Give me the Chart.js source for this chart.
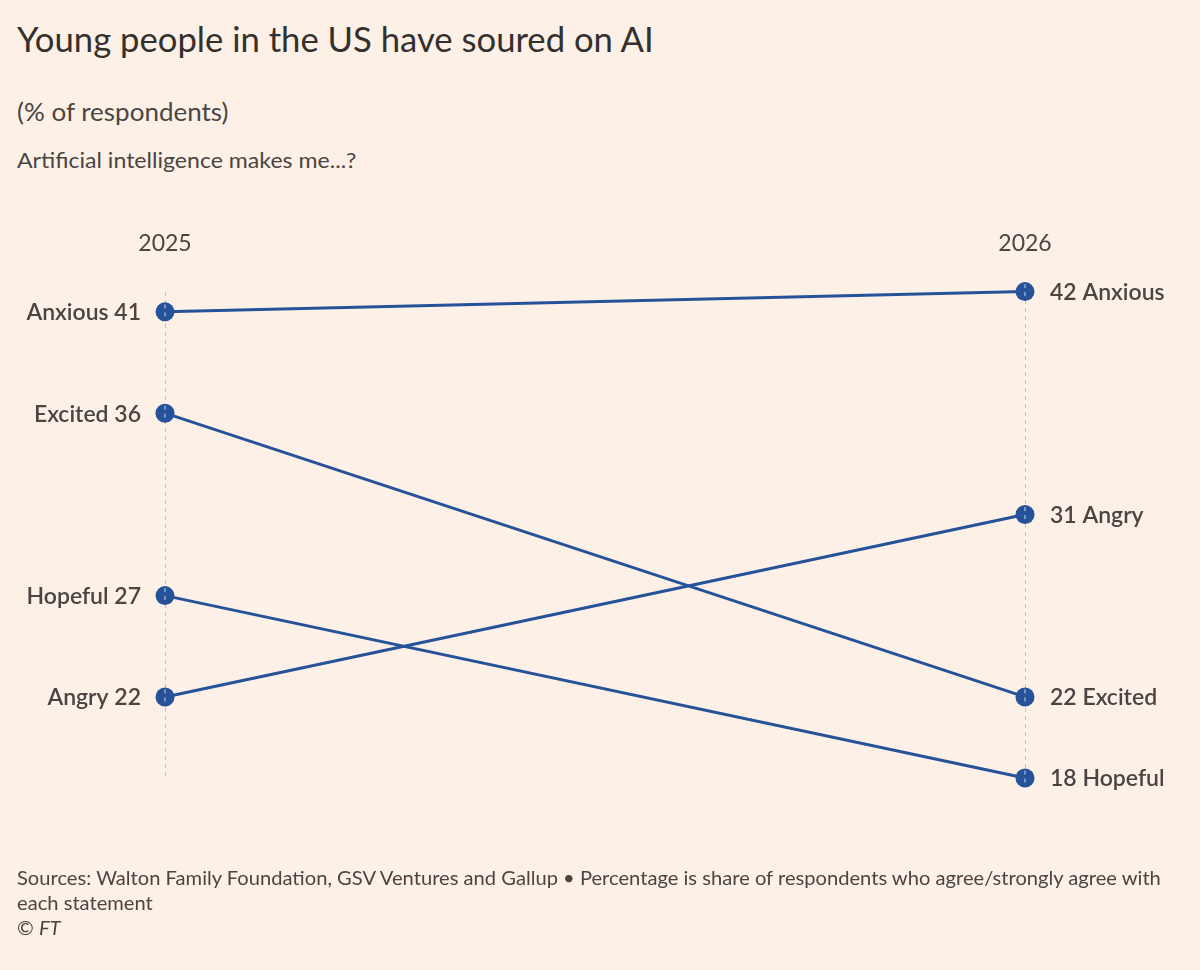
<!DOCTYPE html>
<html>
<head>
<meta charset="utf-8">
<script src="https://cdn.jsdelivr.net/npm/chart.js@4.4.1/dist/chart.umd.min.js"></script>
<style>
  html, body { margin: 0; padding: 0; background: #fdf0e6; }
  body { width: 1200px; height: 970px; position: relative; overflow: hidden; font-family: Lato, "Noto Sans", sans-serif; color: #4a4542; }
  .txt { position: absolute; left: 17px; white-space: nowrap; transform-origin: left center; }
  #title { top: 17px; font-size: 35px; color: #33302e; transform: scaleX(0.99); }
  #sub1 { top: 96px; font-size: 25px; transform: scaleX(1.04); }
  #sub2 { top: 146px; font-size: 22px; transform: scaleX(1.05); }
  #foot { top: 865px; font-size: 19px; line-height: 25px; transform: scaleX(1.06); transform-origin: left top; }
  #wrap { position: absolute; left: 0; top: 0; width: 1200px; height: 970px; }
</style>
</head>
<body>
<div id="title" class="txt">Young people in the US have soured on AI</div>
<div id="sub1" class="txt">(% of respondents)</div>
<div id="sub2" class="txt">Artificial intelligence makes me...?</div>
<div id="wrap"><canvas id="chart"></canvas></div>
<div id="foot" class="txt">Sources: Walton Family Foundation, GSV Ventures and Gallup • Percentage is share of respondents who agree/strongly agree with<br>each statement<br>© <i>FT</i></div>
<script>
// dados
const years = [2025, 2026];
const categories = ['Anxious', 'Excited', 'Hopeful', 'Angry'];
const values2025 = [41, 36, 27, 22];
const values2026 = [42, 22, 18, 31];

const azul = '#26529a';
const corTexto = '#4a4542';
const raio = 9.5;

// rótulos nas pontas de cada linha + tracejado claro sobre os pontos
const slopeLabels = {
    id: 'slopeLabels',
    afterDatasetsDraw(chart) {
        const ctx = chart.ctx;
        ctx.save();
        ctx.font = '600 23px Lato, "Noto Sans", sans-serif';
        ctx.fillStyle = corTexto;
        ctx.textBaseline = 'middle';
        chart.data.datasets.forEach((ds, i) => {
            const pts = chart.getDatasetMeta(i).data;
            ctx.textAlign = 'right';
            ctx.fillText(`${ds.label} ${values2025[i]}`, pts[0].x - 24, pts[0].y + 1);
            ctx.textAlign = 'left';
            ctx.fillText(`${values2026[i]} ${ds.label}`, pts[1].x + 25, pts[1].y + 1);

            // linha tracejada branca atravessando o ponto
            ctx.strokeStyle = 'rgba(255,255,255,0.75)';
            ctx.lineWidth = 1;
            ctx.setLineDash([4, 4]);
            pts.forEach(p => {
                ctx.beginPath();
                ctx.moveTo(p.x, p.y - raio + 2);
                ctx.lineTo(p.x, p.y + raio - 2);
                ctx.stroke();
            });
            ctx.setLineDash([]);
        });
        ctx.restore();
    }
};

const datasets = categories.map((cat, i) => ({
    label: cat,
    data: [{ x: years[0], y: values2025[i] }, { x: years[1], y: values2026[i] }],
    borderColor: azul,
    backgroundColor: azul,
    borderWidth: 3,
    pointRadius: raio,
    pointBorderWidth: 0,
    pointHoverRadius: raio,
    clip: false
}));

new Chart(document.getElementById('chart'), {
    type: 'line',
    data: { datasets: datasets },
    options: {
        responsive: true,
        maintainAspectRatio: false,
        animation: false,
        events: [],
        layout: { padding: { left: 165, right: 175, top: 196, bottom: 192 } },
        plugins: { legend: { display: false }, tooltip: { enabled: false } },
        scales: {
            x: {
                type: 'linear',
                position: 'top',
                min: years[0],
                max: years[1],
                ticks: {
                    stepSize: 1,
                    padding: 34,
                    color: corTexto,
                    font: { size: 23, family: 'Lato, "Noto Sans", sans-serif' },
                    callback: v => String(v)
                },
                grid: { color: '#c9c0b8', lineWidth: 1, drawTicks: false },
                border: { display: false, dash: [4, 4] }
            },
            y: { display: false, min: 18, max: 42 }
        }
    },
    plugins: [slopeLabels]
});
</script>
</body>
</html>
